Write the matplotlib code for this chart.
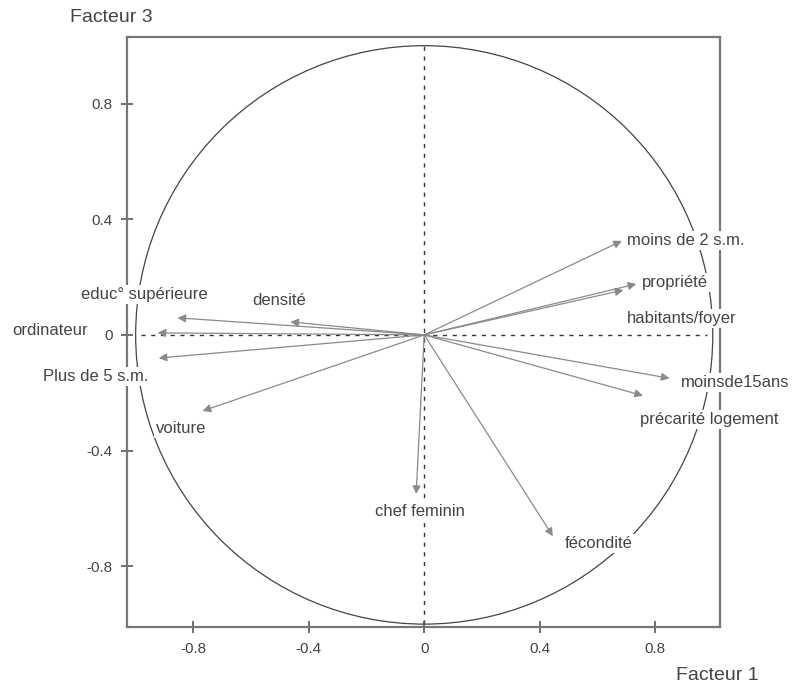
import matplotlib.pyplot as plt
from matplotlib.patches import Circle

plt.rcParams['font.family'] = ['Liberation Sans', 'DejaVu Sans']

# variables: arrow tips (Facteur 1, Facteur 3)
names = ["moins de 2 s.m.", "propriété", "habitants/foyer", "moinsde15ans",
         "précarité logement", "fécondité", "chef feminin", "voiture",
         "Plus de 5 s.m.", "ordinateur", "educ° supérieure", "densité"]
f1 = [0.685, 0.735, 0.69, 0.85, 0.758, 0.446, -0.028, -0.768,
      -0.92, -0.924, -0.855, -0.464]
f3 = [0.325, 0.176, 0.155, -0.15, -0.21, -0.696, -0.55, -0.263,
      -0.08, 0.007, 0.059, 0.045]

# label anchor positions
lab_x = [0.702, 0.754, 0.702, 0.889, 0.747, 0.488, -0.014, -0.931,
         -1.32, -1.426, -1.19, -0.595]
lab_y = [0.325, 0.18, 0.055, -0.163, -0.294, -0.72, -0.609, -0.325,
         -0.145, 0.014, 0.138, 0.118]
lab_ha = ["left", "left", "left", "left", "left", "left", "center", "left",
          "left", "left", "left", "left"]

ticks = [-0.8, -0.4, 0, 0.4, 0.8]
tick_labels = ["-0.8", "-0.4", "0", "0.4", "0.8"]

GREY = "#444444"


def main():
    fig = plt.figure(figsize=(7.95, 6.86), dpi=100)
    ax = fig.add_axes([127 / 795, 59 / 686, 593 / 795, 590 / 686])
    ax.set_xlim(-1.03, 1.025)
    ax.set_ylim(-1.01, 1.03)

    ax.add_patch(Circle((0, 0), 1.0, fill=False, color="#444444", lw=0.9, zorder=1))
    ax.plot([0, 0], [-1, 1], ls=(0, (3, 4)), color="#333333", lw=1, zorder=1)
    ax.plot([-0.98, 0.98], [0, 0], ls=(0, (3, 4)), color="#333333", lw=1, zorder=1)

    for i in range(len(names)):
        ax.text(lab_x[i], lab_y[i], names[i], ha=lab_ha[i], va="center",
                fontsize=12, color=GREY, zorder=3, clip_on=False,
                bbox=dict(facecolor="white", edgecolor="none", pad=1.5))
        ax.annotate("", xy=(f1[i], f3[i]), xytext=(0, 0), zorder=4,
                    arrowprops=dict(arrowstyle="-|>", color="#8a8a8a", lw=0.9,
                                    mutation_scale=12, shrinkA=0, shrinkB=0))

    ax.set_xticks(ticks)
    ax.set_xticklabels(tick_labels)
    ax.set_yticks(ticks)
    ax.set_yticklabels(tick_labels)
    ax.tick_params(direction="inout", length=9, width=1.2, colors="#555555",
                   labelcolor=GREY, labelsize=11, pad=6)
    for s in ax.spines.values():
        s.set_color("#777777")
        s.set_linewidth(1.6)

    fig.text(111 / 795, 1 - 18 / 686, "Facteur 3", ha="center", va="center",
             fontsize=14, color=GREY)
    fig.text(717 / 795, 1 - 675 / 686, "Facteur 1", ha="center", va="center",
             fontsize=14, color=GREY)

    fig.savefig("out.png", dpi=100)


if __name__ == '__main__':
    main()
